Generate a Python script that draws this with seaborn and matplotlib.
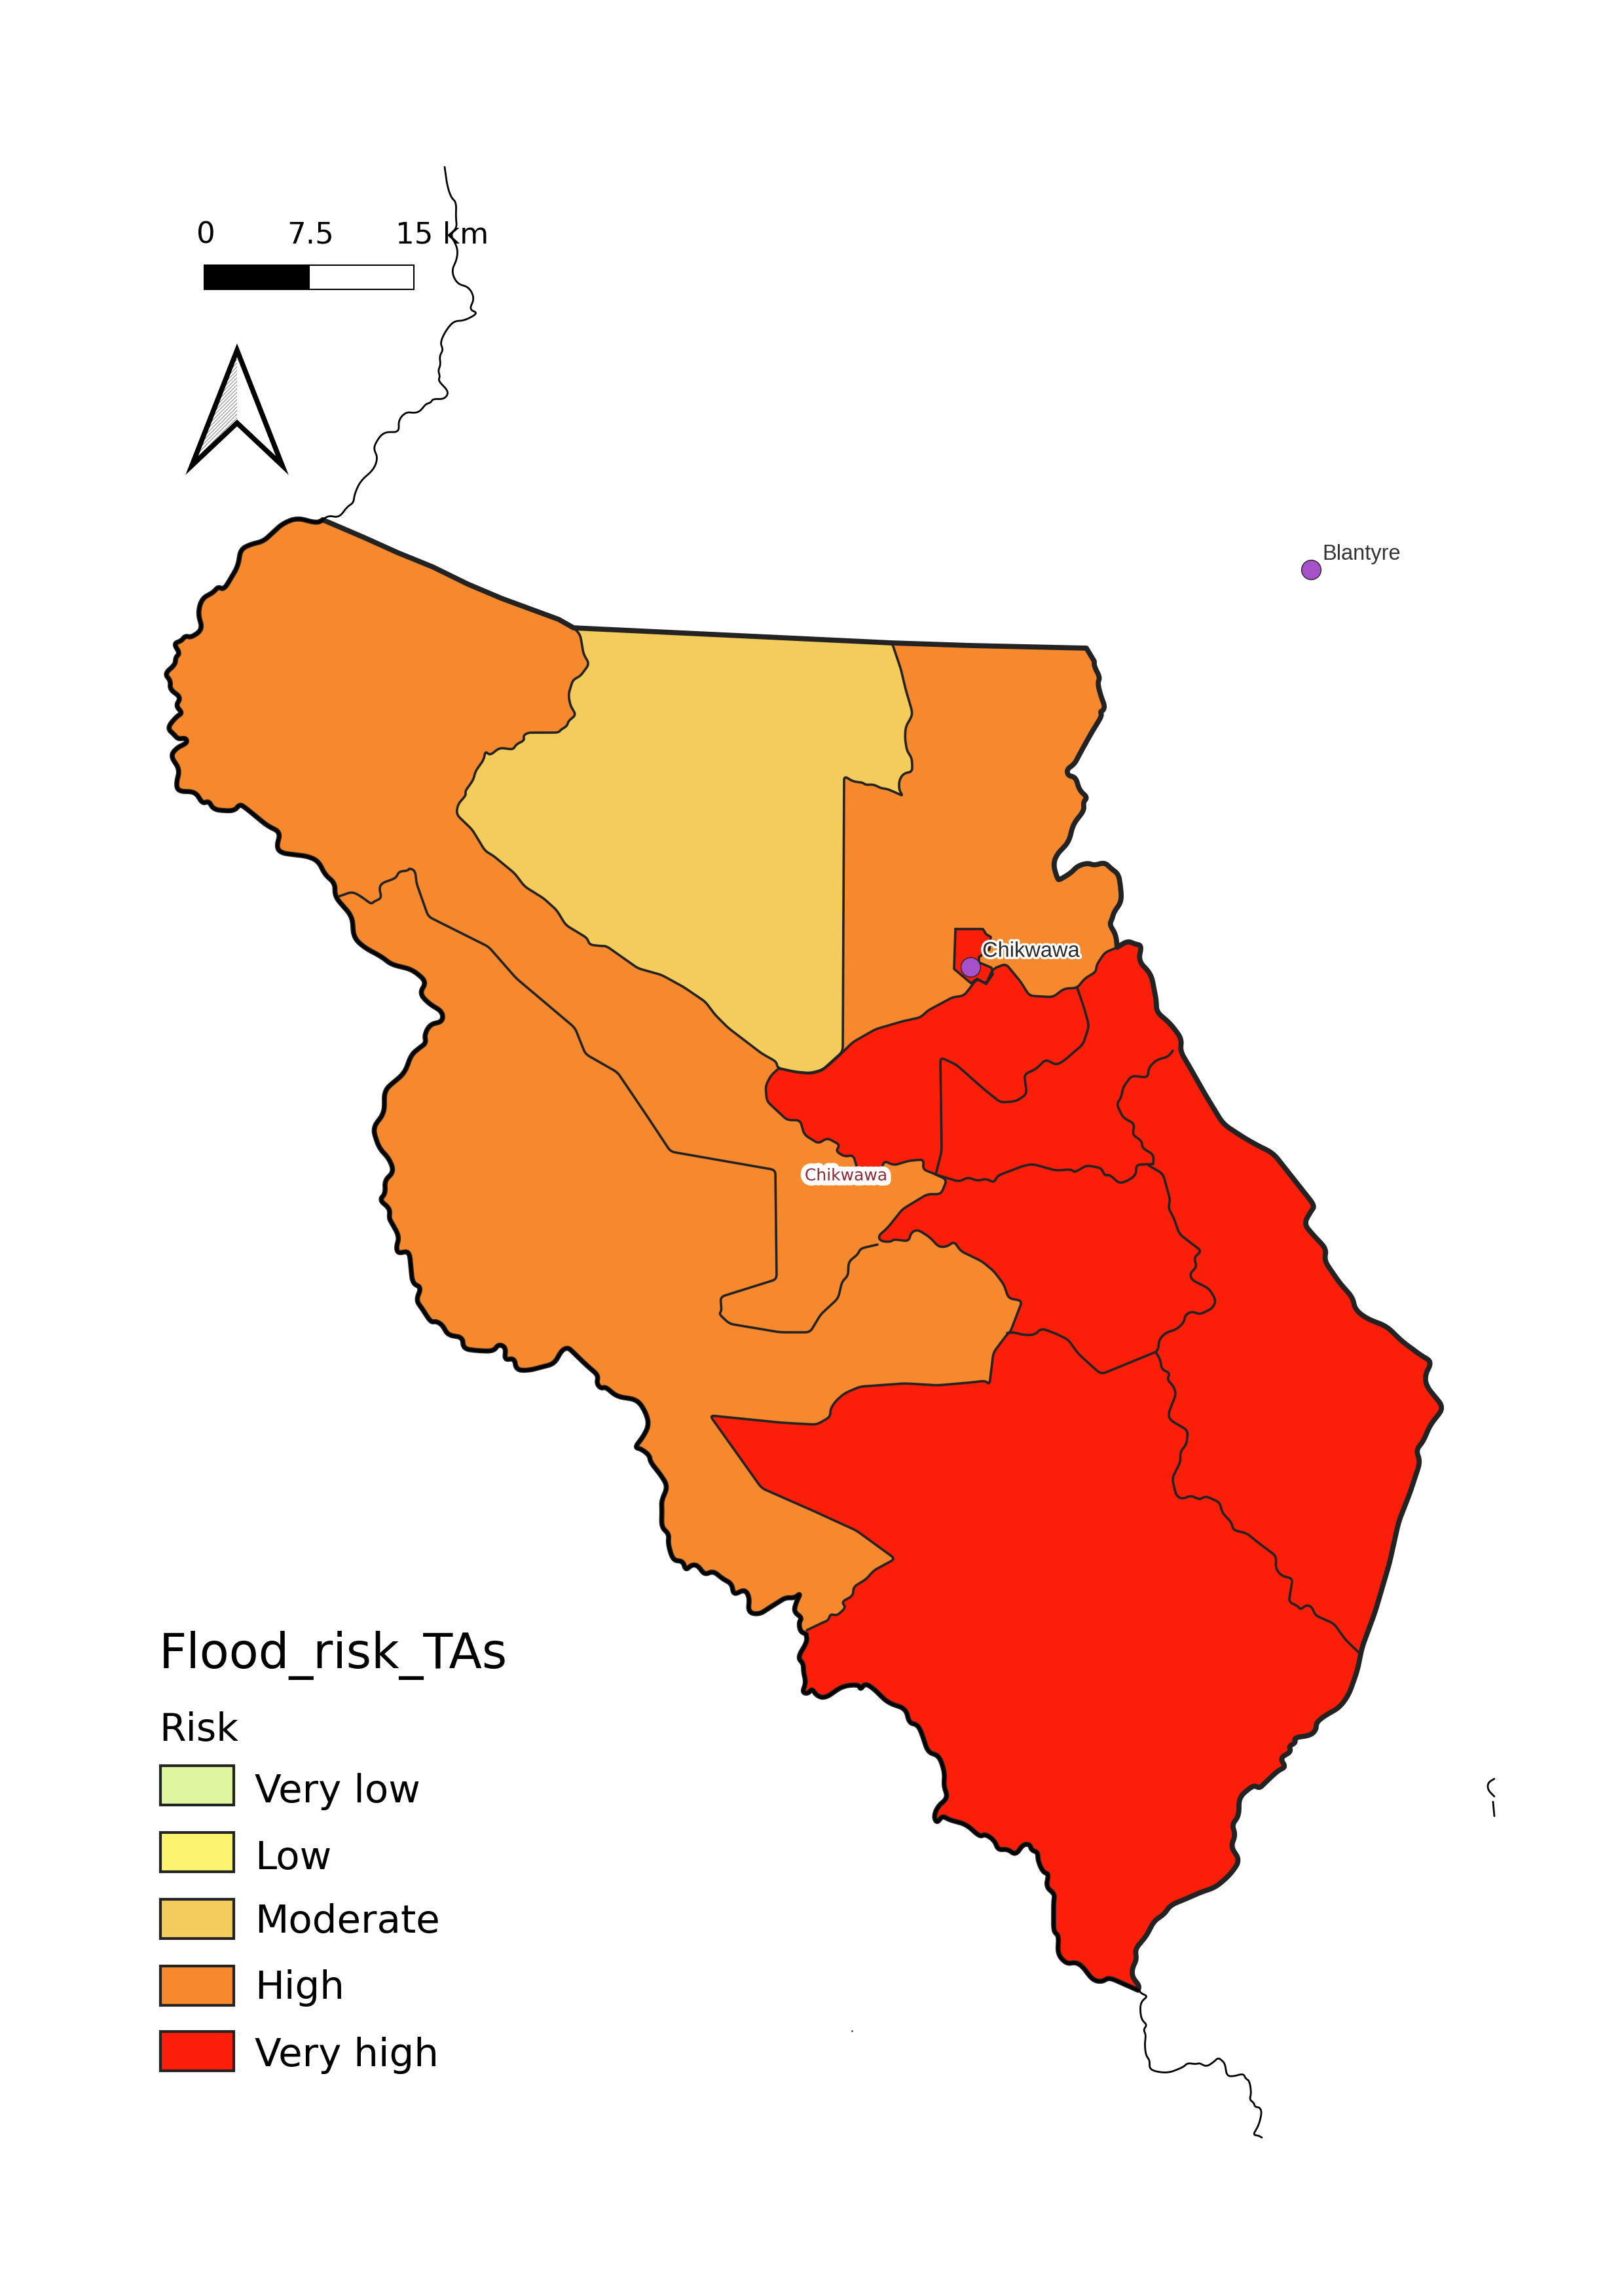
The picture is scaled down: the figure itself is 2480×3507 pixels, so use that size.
# Flood risk per Traditional Authority, Chikwawa district.
# The district is hand-digitised from the map, coordinates are map units
# (one unit = one pixel of the 2480 x 3507 sheet, y runs downwards).

import matplotlib
matplotlib.use("Agg")
import matplotlib.pyplot as plt
import matplotlib.patheffects as pe
import numpy as np
import pandas as pd
import seaborn as sns

# Legend classes
risk_classes = ["Very low", "Low", "Moderate", "High", "Very high"]
risk_colors = ["#e0f5a0", "#fbf36e", "#f4cc5b", "#f6892d", "#fb1e08"]
legend_title = "Flood_risk_TAs"
legend_field = "Risk"

# Scale bar
scale_km = [0, 7.5, 15]
scale_labels = ["0", "7.5", "15 km"]

# Towns
town_names = ["Blantyre", "Chikwawa"]
town_x = [2002, 1482]
town_y = [870, 1477]

# District outline, split where the neighbours change
outer_north = [(493, 794), (556, 821), (607, 844), (661, 866), (714, 892), (766, 914), (815, 932),
               (853, 946), (876, 959), (1362, 982), (1482, 986), (1659, 990)]
outer_east_a = [(1671, 1010), (1671, 1018), (1680, 1035), (1676, 1043), (1681, 1063), (1687, 1078),
                (1685, 1085), (1680, 1087), (1683, 1093), (1668, 1117), (1648, 1153), (1641, 1167),
                (1629, 1175), (1631, 1185), (1643, 1187), (1648, 1207), (1661, 1218), (1654, 1225),
                (1656, 1238), (1639, 1258), (1632, 1287), (1615, 1303), (1608, 1320), (1615, 1343),
                (1618, 1344), (1636, 1333), (1645, 1323), (1661, 1318), (1671, 1322), (1687, 1317),
                (1697, 1327), (1708, 1335), (1711, 1352), (1713, 1377), (1701, 1393), (1699, 1402),
                (1694, 1412), (1704, 1427), (1706, 1447)]
outer_east_b = [(1706, 1447), (1722, 1437), (1733, 1442), (1744, 1444), (1738, 1467), (1758, 1488), (1766, 1529),
                (1766, 1546), (1786, 1562), (1805, 1587), (1802, 1605), (1814, 1625), (1840, 1671),
                (1868, 1717), (1900, 1738), (1921, 1750), (1944, 1761), (2008, 1842), (2002, 1850),
                (1991, 1869), (2004, 1885), (2026, 1908), (2022, 1925), (2046, 1960), (2066, 1982),
                (2069, 2000), (2087, 2014), (2118, 2026), (2140, 2048), (2171, 2071), (2187, 2080),
                (2176, 2100), (2178, 2117), (2205, 2150), (2183, 2178), (2174, 2201), (2162, 2215),
                (2169, 2232), (2154, 2278), (2136, 2324), (2122, 2387), (2100, 2462), (2080, 2516),
                (2073, 2551), (2060, 2588), (2046, 2608), (2024, 2620), (2010, 2631), (2010, 2642),
                (2001, 2651), (1976, 2654), (1979, 2662), (1968, 2667), (1972, 2676), (1954, 2685),
                (1964, 2699), (1952, 2704), (1932, 2723), (1923, 2732), (1915, 2726), (1892, 2745),
                (1892, 2774), (1881, 2787), (1887, 2803), (1879, 2821), (1894, 2841), (1879, 2863),
                (1856, 2883), (1834, 2890), (1812, 2900), (1787, 2910), (1778, 2924), (1762, 2934),
                (1751, 2957), (1733, 2977), (1736, 2993), (1729, 3006), (1729, 3020), (1740, 3033),
                (1738, 3040)]
outer_south = [(1738, 3040), (1693, 3020), (1684, 3027), (1669, 3025), (1653, 3003), (1642, 2997), (1629, 3000),
               (1615, 2985), (1617, 2956), (1609, 2951), (1609, 2904), (1611, 2893), (1597, 2882),
               (1602, 2862), (1593, 2860), (1585, 2842), (1585, 2829), (1575, 2826), (1573, 2817),
               (1562, 2817), (1551, 2834), (1539, 2824), (1524, 2826), (1519, 2811), (1504, 2801),
               (1497, 2806), (1475, 2786), (1450, 2780), (1439, 2773), (1431, 2785), (1426, 2775),
               (1432, 2759), (1448, 2746), (1441, 2728), (1443, 2708), (1434, 2681), (1417, 2677),
               (1410, 2654), (1402, 2634), (1388, 2632), (1384, 2610), (1356, 2601), (1334, 2579),
               (1321, 2571), (1314, 2581), (1312, 2573), (1287, 2575), (1260, 2594), (1247, 2590),
               (1240, 2579), (1234, 2587), (1225, 2585), (1231, 2570), (1227, 2554), (1227, 2541),
               (1218, 2532), (1233, 2507), (1231, 2496)]
outer_west = [(1231, 2496), (1222, 2492), (1220, 2478), (1225, 2471), (1212, 2462), (1216, 2447), (1223, 2433),
              (1213, 2441), (1200, 2440), (1189, 2447), (1176, 2455), (1160, 2466), (1142, 2463),
              (1145, 2440), (1137, 2427), (1120, 2437), (1118, 2419), (1104, 2412), (1089, 2399),
              (1076, 2406), (1066, 2391), (1056, 2390), (1047, 2399), (1043, 2384), (1028, 2384),
              (1020, 2358), (1022, 2343), (1010, 2333), (1011, 2307), (1010, 2292), (1020, 2271),
              (1010, 2254), (993, 2233), (992, 2223), (979, 2213), (969, 2211), (982, 2195),
              (991, 2177), (987, 2159), (974, 2138), (941, 2133), (925, 2118), (918, 2121),
              (911, 2113), (914, 2101), (900, 2089), (888, 2078), (875, 2065), (867, 2058),
              (857, 2063), (847, 2083), (827, 2088), (809, 2093), (788, 2093), (786, 2074),
              (770, 2078), (773, 2058), (761, 2053), (754, 2064), (727, 2063), (707, 2060),
              (707, 2042), (684, 2040), (676, 2024), (666, 2018), (658, 2020), (645, 1999),
              (635, 1986), (644, 1966), (630, 1961), (625, 1910), (608, 1915), (605, 1905),
              (610, 1889), (599, 1869), (594, 1861), (596, 1846), (579, 1833), (589, 1823),
              (587, 1803), (602, 1790), (594, 1769), (579, 1754), (569, 1723), (587, 1700),
              (587, 1665), (618, 1639), (628, 1611), (640, 1601), (651, 1593), (648, 1581),
              (657, 1564), (676, 1561), (676, 1545), (656, 1534), (640, 1517), (652, 1500),
              (630, 1481), (597, 1473), (584, 1462), (556, 1447), (540, 1432), (538, 1400),
              (511, 1369), (512, 1349), (496, 1336), (487, 1316), (471, 1308), (429, 1303),
              (422, 1293), (429, 1271), (409, 1262), (391, 1247), (375, 1234), (366, 1228),
              (358, 1239), (326, 1237), (319, 1223), (309, 1228), (299, 1209), (272, 1209),
              (269, 1196), (275, 1175), (260, 1155), (270, 1142), (286, 1135), (284, 1127),
              (272, 1129), (266, 1122), (255, 1112), (270, 1094), (279, 1089), (268, 1078),
              (277, 1065), (259, 1053), (261, 1040), (251, 1029), (268, 1015), (268, 1004),
              (275, 998), (265, 983), (277, 979), (283, 971), (292, 974), (310, 961),
              (302, 938), (308, 914), (326, 905), (333, 896), (342, 901), (364, 864),
              (367, 839), (384, 831), (402, 827), (415, 815), (431, 800), (453, 791),
              (484, 799), (493, 794)]

# The Moderate TA
moderate_ta = [(876, 959), (886, 969), (891, 999), (900, 1014), (886, 1033), (875, 1038), (868, 1061),
               (871, 1078), (880, 1092), (868, 1101), (866, 1109), (857, 1114), (853, 1119), (806, 1119),
               (799, 1124), (801, 1131), (788, 1137), (784, 1145), (763, 1142), (748, 1154), (741, 1147),
               (739, 1160), (726, 1178), (723, 1191), (710, 1209), (712, 1214), (699, 1229), (697, 1244),
               (721, 1267), (741, 1300), (752, 1306), (786, 1334), (801, 1354), (830, 1372), (850, 1390),
               (864, 1413), (897, 1433), (900, 1443), (918, 1445), (926, 1445), (974, 1479), (1010, 1489),
               (1043, 1507), (1077, 1530), (1092, 1550), (1112, 1570), (1163, 1609), (1186, 1622),
               (1187, 1631), (1214, 1637), (1237, 1639), (1256, 1634), (1276, 1616), (1287, 1606),
               (1289, 1185), (1303, 1194), (1317, 1195), (1322, 1199), (1334, 1198), (1345, 1204),
               (1355, 1205), (1371, 1212), (1379, 1216), (1373, 1207), (1373, 1192), (1380, 1181),
               (1393, 1179), (1393, 1167), (1392, 1157), (1385, 1147), (1382, 1128), (1383, 1110),
               (1392, 1095), (1393, 1087), (1383, 1053), (1376, 1023), (1366, 993), (1362, 982)]

# Very high area: the north edge and the west edge, the rest is the outline
red_north = [(1189, 1632), (1217, 1638), (1238, 1640), (1256, 1635), (1279, 1615), (1302, 1592),
             (1337, 1572), (1378, 1560), (1406, 1554), (1416, 1544), (1455, 1523), (1472, 1521),
             (1492, 1495), (1506, 1503), (1516, 1480), (1536, 1472), (1559, 1500), (1572, 1521),
             (1608, 1523), (1625, 1510), (1645, 1509), (1656, 1495), (1674, 1484), (1674, 1475),
             (1687, 1455), (1706, 1447)]
red_west = [(1232, 2490), (1257, 2478), (1265, 2475), (1268, 2465), (1278, 2468), (1292, 2455),
            (1285, 2447), (1303, 2437), (1303, 2424), (1323, 2412), (1334, 2399), (1367, 2381),
            (1308, 2338), (1247, 2310), (1163, 2273), (1084, 2162), (1193, 2173), (1247, 2176),
            (1268, 2164), (1268, 2152), (1277, 2139), (1290, 2128), (1313, 2118), (1382, 2113),
            (1431, 2116), (1479, 2112), (1505, 2109), (1511, 2115), (1517, 2066), (1538, 2038),
            (1543, 2034), (1561, 1987), (1540, 1983), (1533, 1962), (1518, 1942), (1500, 1927),
            (1488, 1921), (1467, 1911), (1457, 1896), (1447, 1904), (1434, 1905), (1421, 1891),
            (1414, 1886), (1401, 1878), (1391, 1883), (1388, 1896), (1365, 1893), (1360, 1897),
            (1345, 1896), (1341, 1888), (1355, 1876), (1378, 1847), (1416, 1824), (1437, 1824),
            (1446, 1802), (1427, 1793), (1409, 1786), (1411, 1771), (1388, 1773), (1365, 1780),
            (1350, 1773), (1347, 1785), (1309, 1785), (1303, 1764), (1290, 1767), (1276, 1758),
            (1283, 1749), (1263, 1738), (1250, 1747), (1228, 1733), (1222, 1711), (1202, 1711),
            (1184, 1694), (1171, 1682), (1169, 1659), (1177, 1643), (1189, 1632)]

# Small TA around the boma
town_ta = [(1459, 1419), (1501, 1419), (1506, 1427), (1513, 1431), (1511, 1450), (1495, 1462),
           (1495, 1470), (1514, 1478), (1516, 1488), (1506, 1503), (1492, 1495), (1483, 1502),
           (1457, 1480), (1459, 1419)]

# Borders between TAs of the same colour
border_high = [(518, 1369), (538, 1362), (551, 1369), (567, 1381), (571, 1377), (583, 1372), (579, 1357),
               (583, 1349), (605, 1341), (609, 1331), (623, 1330), (625, 1326), (634, 1330), (636, 1349),
               (654, 1400), (746, 1446), (788, 1494), (878, 1570), (894, 1610), (943, 1638), (985, 1700),
               (1024, 1759), (1184, 1787), (1186, 1954), (1100, 1981), (1102, 2002), (1098, 2007),
               (1114, 2022), (1191, 2035), (1237, 2035), (1253, 2008), (1280, 1983), (1286, 1957),
               (1295, 1949), (1296, 1927), (1310, 1916), (1314, 1907), (1340, 1901)]
border_lobe = [(1645, 1509), (1656, 1541), (1663, 1567), (1654, 1595), (1625, 1620), (1613, 1627),
               (1597, 1618), (1582, 1633), (1564, 1641), (1568, 1671), (1552, 1682), (1528, 1684),
               (1503, 1664), (1460, 1626), (1436, 1615), (1438, 1758), (1429, 1794)]
border_centre = [(1429, 1794), (1465, 1805), (1478, 1798), (1493, 1804), (1506, 1800), (1518, 1807),
                 (1523, 1796), (1562, 1781), (1577, 1778), (1613, 1788), (1636, 1786), (1641, 1791),
                 (1659, 1780), (1682, 1784), (1687, 1796), (1694, 1794), (1710, 1808), (1725, 1802),
                 (1735, 1794), (1735, 1779), (1761, 1778)]
border_east_top = [(1791, 1605), (1784, 1614), (1766, 1619), (1754, 1631), (1753, 1646), (1728, 1643),
                   (1715, 1661), (1712, 1677), (1705, 1686), (1715, 1707), (1733, 1717), (1729, 1733),
                   (1744, 1743), (1744, 1753), (1762, 1764), (1761, 1778)]
border_east_mid = [(1754, 1780), (1776, 1793), (1787, 1833), (1784, 1845), (1792, 1859), (1801, 1885),
                   (1835, 1911), (1823, 1921), (1828, 1935), (1817, 1945), (1820, 1955), (1846, 1968),
                   (1857, 1986), (1852, 1998), (1832, 2008), (1821, 2003), (1810, 2008), (1808, 2020),
                   (1796, 2031), (1781, 2035), (1770, 2046), (1769, 2060), (1765, 2065)]
border_south_mid = [(1765, 2065), (1682, 2099), (1671, 2090), (1646, 2067), (1631, 2046), (1610, 2036),
                    (1590, 2029), (1580, 2039), (1562, 2039), (1549, 2035), (1538, 2036)]
border_east_low = [(1765, 2065), (1772, 2077), (1774, 2092), (1787, 2097), (1782, 2107), (1792, 2117),
                   (1796, 2129), (1784, 2160), (1787, 2169), (1814, 2185), (1812, 2206), (1802, 2218),
                   (1803, 2232), (1790, 2258), (1796, 2284), (1805, 2290), (1819, 2284), (1832, 2291),
                   (1841, 2285), (1863, 2295), (1866, 2310), (1881, 2326), (1883, 2337), (1904, 2342),
                   (1921, 2356), (1949, 2377), (1948, 2396), (1957, 2407), (1974, 2411), (1968, 2447),
                   (1982, 2453), (1986, 2459), (1995, 2451), (2004, 2455), (2008, 2467), (2037, 2480),
                   (2055, 2505), (2075, 2524)]

# Shire river and its bits outside the district
river_north = [(679, 255), (683, 284), (689, 302), (697, 309), (696, 332), (698, 348), (687, 358),
               (699, 378), (698, 396), (689, 414), (698, 434), (716, 438), (725, 456), (716, 473),
               (731, 478), (709, 490), (693, 490), (680, 506), (672, 524), (677, 534), (671, 544),
               (673, 557), (669, 566), (672, 575), (669, 582), (686, 598), (679, 610), (661, 609),
               (658, 615), (650, 617), (642, 628), (633, 631), (620, 629), (608, 642), (610, 661),
               (586, 659), (573, 677), (571, 687), (577, 699), (571, 717), (550, 735), (541, 756),
               (540, 768), (530, 774), (518, 791), (501, 787), (490, 797)]
river_south = [(1740, 3041), (1743, 3045), (1753, 3049), (1743, 3057), (1741, 3068), (1743, 3085),
               (1752, 3093), (1746, 3100), (1750, 3108), (1748, 3123), (1750, 3140), (1756, 3147),
               (1755, 3162), (1783, 3167), (1808, 3157), (1813, 3151), (1826, 3153), (1832, 3151),
               (1842, 3157), (1853, 3150), (1860, 3143), (1866, 3147), (1871, 3153), (1873, 3170),
               (1882, 3172), (1899, 3167), (1902, 3175), (1908, 3178), (1911, 3197), (1908, 3207),
               (1915, 3212), (1916, 3218), (1924, 3219), (1927, 3227), (1922, 3247), (1913, 3261),
               (1922, 3262), (1927, 3265)]
river_east_a = [(2282, 2717), (2272, 2723), (2272, 2734), (2282, 2744)]
river_east_b = [(2280, 2752), (2282, 2774)]

DARK = "#232323"
COAST_ROUND = 12  # corner rounding of wiggly boundaries, in map units
INNER_ROUND = 7


def rounded(pts, r):
    # The digitising is coarser than the real boundary, so cut each corner with a
    # small quadratic curve. Long straight legs stay straight.
    pts = np.asarray(pts, dtype=float)
    out = [pts[0]]
    t = np.linspace(0, 1, 6)[:, None]
    for prev, p, nxt in zip(pts[:-2], pts[1:-1], pts[2:]):
        a = p + (prev - p) * min(r / np.linalg.norm(prev - p), 0.5)
        b = p + (nxt - p) * min(r / np.linalg.norm(nxt - p), 0.5)
        out.extend((1 - t) ** 2 * a + 2 * t * (1 - t) * p + t ** 2 * b)
    out.append(pts[-1])
    return np.array(out)


def draw_line(ax, pts, width, color=DARK, z=5):
    # sort=False keeps the digitising order, otherwise lineplot would sort on x
    df = pd.DataFrame(pts, columns=["x", "y"])
    sns.lineplot(data=df, x="x", y="y", sort=False, estimator=None, ax=ax, color=color,
                 linewidth=width, solid_joinstyle="round", solid_capstyle="round", zorder=z)


def fill_area(ax, pts, color, z=1):
    ax.fill(pts[:, 0], pts[:, 1], facecolor=color, edgecolor="none", zorder=z)


sns.set_theme(style="white")
plt.rcParams["font.family"] = ["DejaVu Sans"]
plt.rcParams["hatch.linewidth"] = 0.5

fig = plt.figure(figsize=(24.8, 35.07), dpi=100)
ax = fig.add_axes([0, 0, 1, 1])
ax.set_xlim(0, 2480)
ax.set_ylim(3507, 0)
ax.axis("off")

# rounded copies, shared by the fills and the strokes so they stay together
north_r = np.asarray(outer_north, dtype=float)
east_a_r = rounded(outer_east_a, COAST_ROUND)
east_b_r = rounded(outer_east_b, COAST_ROUND)
south_r = rounded(outer_south, COAST_ROUND)
west_r = rounded(outer_west, COAST_ROUND)
moderate_r = rounded(moderate_ta, INNER_ROUND)
red_north_r = rounded(red_north, INNER_ROUND)
red_west_r = rounded(red_west, INNER_ROUND)
town_r = np.asarray(town_ta, dtype=float)
outline = np.vstack([north_r, east_a_r, east_b_r, south_r, west_r])

# areas
fill_area(ax, outline, risk_colors[3], 1)
fill_area(ax, moderate_r, risk_colors[2], 2)
fill_area(ax, np.vstack([red_north_r, east_b_r, south_r, red_west_r]), risk_colors[4], 3)
fill_area(ax, town_r, risk_colors[4], 4)

# thin TA borders
inner_lw = 2.6
draw_line(ax, np.vstack([moderate_r, moderate_r[:1]]), inner_lw)
draw_line(ax, red_north_r, inner_lw)
draw_line(ax, red_west_r, inner_lw)
draw_line(ax, town_r, inner_lw)
for border in [border_high, border_lobe, border_centre, border_east_top, border_east_mid,
               border_south_mid, border_east_low]:
    draw_line(ax, rounded(border, INNER_ROUND), inner_lw)

# thick district outline, the river runs on top of it in the west and south
outer_lw = 5.6
draw_line(ax, outline, outer_lw, z=6)
draw_line(ax, np.vstack([south_r, west_r]), 3.4, color="black", z=7)
river_lw = 2.0
for river in [river_north, river_south, river_east_a, river_east_b]:
    draw_line(ax, rounded(river, COAST_ROUND), river_lw, color="black", z=7)

# tiny speck south of the district
ax.plot([1301], [3102], marker="s", ms=1, color="#555555")

# towns
towns = pd.DataFrame({"x": town_x, "y": town_y, "name": town_names})
sns.scatterplot(data=towns, x="x", y="y", s=460, color="#a651c9", edgecolor=DARK, linewidth=1,
                ax=ax, zorder=9, legend=False)
ax.set_xlim(0, 2480)
ax.set_ylim(3507, 0)
ax.set_xlabel("")
ax.set_ylabel("")

ax.text(2019, 847, town_names[0], fontsize=23.5, family="Liberation Sans", color="#333333",
        va="center", ha="left", zorder=10)
ax.text(1500, 1453, town_names[1], fontsize=23.5, family="Liberation Sans", color="#2a2a2a",
        va="center", ha="left", zorder=10,
        path_effects=[pe.withStroke(linewidth=5, foreground="white")])
ax.text(1292, 1796, town_names[1], fontsize=18, color="#8a2c32", va="center", ha="center", zorder=10,
        path_effects=[pe.withStroke(linewidth=11, foreground="white")])

# scale bar
bar_left, bar_right, bar_top, bar_bottom = 312, 632, 405, 442
km_to_x = lambda km: bar_left + km * (bar_right - bar_left) / scale_km[-1]
ax.fill([km_to_x(0), km_to_x(7.5), km_to_x(7.5), km_to_x(0)], [bar_top, bar_top, bar_bottom, bar_bottom],
        facecolor="black", edgecolor="black", linewidth=1.5, zorder=8)
ax.fill([km_to_x(7.5), km_to_x(15), km_to_x(15), km_to_x(7.5)], [bar_top, bar_top, bar_bottom, bar_bottom],
        facecolor="white", edgecolor="black", linewidth=1.5, zorder=8)
for km, label in zip(scale_km[:2], scale_labels[:2]):
    ax.text(km_to_x(km) + 2, 371, label, fontsize=32.5, ha="center", va="baseline", color="black", zorder=10)
ax.text(km_to_x(15) - 23 - 5, 371, scale_labels[2], fontsize=32.5, ha="left", va="baseline", color="black", zorder=10)

# north arrow
ax.fill([362, 362, 293], [535, 646, 711], facecolor="white", edgecolor="#555555", hatch="//////",
        linewidth=0, zorder=8)
ax.fill([362, 431, 362, 293], [535, 711, 646, 711], facecolor="none", edgecolor="black", linewidth=5.5,
        joinstyle="miter", zorder=9)

# legend, drawn by hand so the spacing stays like the print layout
ax.text(243, 2548, legend_title, fontsize=53, color="black", va="baseline", ha="left")
ax.text(243, 2659, legend_field, fontsize=42, color="black", va="baseline", ha="left")
swatch_top = [2697, 2799, 2901, 3003, 3103]
label_base = [2753, 2855, 2952, 3053, 3156]
for name, color, top, base in zip(risk_classes, risk_colors, swatch_top, label_base):
    ax.fill([245, 357, 357, 245], [top, top, top + 60, top + 60], facecolor=color, edgecolor=DARK,
            linewidth=3, zorder=8)
    ax.text(389, base, name, fontsize=42.8, color="black", va="baseline", ha="left")

fig.savefig("out.png", dpi=100)
